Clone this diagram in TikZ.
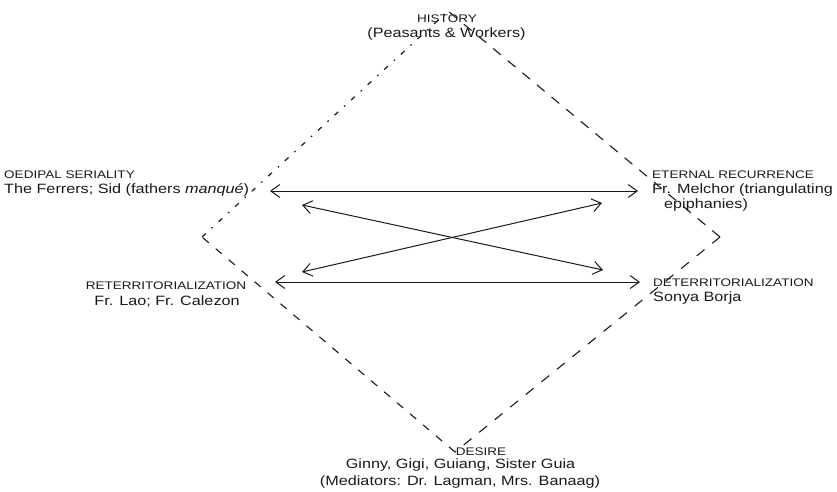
\documentclass[tikz,border=0pt]{standalone}
\usepackage{fontspec}
\setmainfont{Liberation Sans}[FakeStretch=1.2]
\newfontfamily\capf{Liberation Sans}[FakeStretch=1.23]
\usetikzlibrary{arrows.meta}
\begin{document}
\begin{tikzpicture}[x=1pt,y=-1pt,
  ink/.style={draw=black!90, line width=1pt},
  dbl/.style={ink, {Straight Barb[length=9pt,width=13pt]}-{Straight Barb[length=9pt,width=13pt]}},
  capl/.style={font=\capf\fontsize{11}{13}\selectfont, text=black!90, inner sep=0pt},
  bodyl/.style={font=\fontsize{13.5}{16}\selectfont, text=black!90, inner sep=0pt}]
\useasboundingbox (0,0) rectangle (837,491);
% diamond corners
\coordinate (top) at (448,11);
\coordinate (left) at (202,237);
\coordinate (right) at (720,237);
\coordinate (bot) at (455,452);
\draw[ink, line width=1.2pt, dash pattern=on 5pt off 8pt on 1.5pt off 8pt] (left) -- (top);
\draw[ink, line width=1.1pt, dash pattern=on 10pt off 9pt] (right) -- (top);
\draw[ink, line width=1.1pt, dash pattern=on 8pt off 9pt] (bot) -- (left);
\draw[ink, line width=1.1pt, dash pattern=on 10pt off 10pt] (right) -- (bot);
% arrow end points
\coordinate (a1) at (270,191);
\coordinate (b1) at (638,191);
\coordinate (a2) at (275,282);
\coordinate (b2) at (640,282);
\coordinate (c1) at (302,205);
\coordinate (d1) at (603,270);
\coordinate (c2) at (302,272);
\coordinate (d2) at (602,203);
\draw[dbl] (a1) -- (b1);
\draw[dbl] (a2) -- (b2);
\draw[dbl] (c1) -- (d1);
\draw[dbl] (c2) -- (d2);
% labels
\node[capl, anchor=base] (hist) at (447,22.5) {HISTORY};
\node[bodyl, anchor=base] (histb) at (446.5,37) {(Peasants \& Workers)};
\node[capl, anchor=base west] (oed) at (4,178) {OEDIPAL SERIALITY};
\node[bodyl, anchor=base west] (oedb) at (4,193) {The Ferrers; Sid (fathers \textit{manqué})};
\node[capl, anchor=base west] (ete) at (652,178) {ETERNAL RECURRENCE};
\node[bodyl, anchor=base west] (eteb) at (652,193.3) {Fr. Melchor (triangulating};
\node[bodyl, anchor=base west] (etec) at (664,208.5) {epiphanies)};
\node[capl, anchor=base] (ret) at (166,289) {RETERRITORIALIZATION};
\node[bodyl, anchor=base] (retb) at (167,305) {Fr. Lao; Fr. Calezon};
\node[capl, anchor=base west] (det) at (653,286) {DETERRITORIALIZATION};
\node[bodyl, anchor=base west] (detb) at (653,301.5) {Sonya Borja};
\node[capl, anchor=base] (des) at (481,455) {DESIRE};
\node[bodyl, anchor=base] (desb) at (460.5,468) {Ginny, Gigi, Guiang, Sister Guia};
\node[bodyl, anchor=base] (desc) at (460,485) {(Mediators: Dr. Lagman, Mrs. Banaag)};
\end{tikzpicture}
\end{document}
